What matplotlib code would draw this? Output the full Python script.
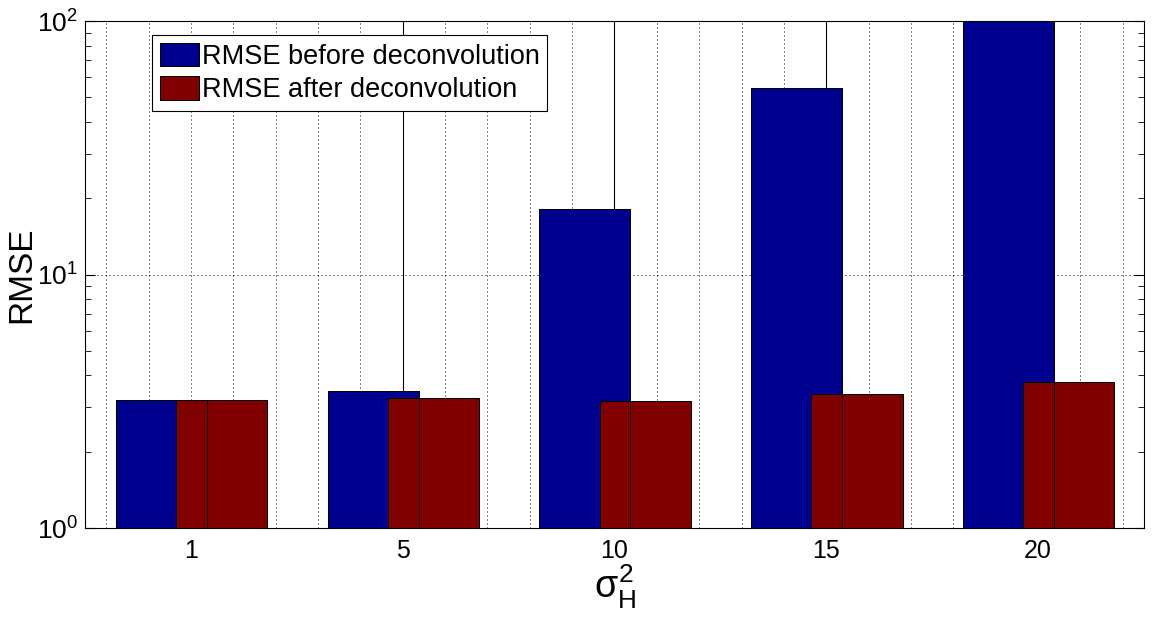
import numpy as np
import matplotlib.pyplot as plt
from matplotlib.ticker import MultipleLocator, NullFormatter

plt.rcParams['font.family'] = ['Liberation Sans', 'DejaVu Sans']
plt.rcParams['mathtext.fontset'] = 'custom'
plt.rcParams['mathtext.rm'] = 'Liberation Sans'
plt.rcParams['mathtext.it'] = 'Liberation Sans'

# data
sigma_h2 = ['1', '5', '10', '15', '20']
rmse_before = [3.19, 3.46, 18.1, 54.4, 150.0]
rmse_after = [3.19, 3.25, 3.16, 3.37, 3.76]

blue = '#00008f'
red = '#800000'
dotted = (0, (1, 3))

fig = plt.figure(figsize=(11.58, 6.22), dpi=100)
ax = fig.add_axes([0.0734, 0.1511, 0.9145, 0.8151])
ax.set_yscale('log')

pos = np.arange(1, len(sigma_h2) + 1)
width = 0.43

ax.bar(pos - 0.14, rmse_before, width, color=blue, edgecolor='black',
       linewidth=0.7, zorder=2, label='RMSE before deconvolution')
ax.bar(pos + 0.145, rmse_after, width, color=red, edgecolor='black',
       linewidth=0.7, zorder=3, label='RMSE after deconvolution')
# outline of the first series drawn over the second (as matlab does)
ax.bar(pos - 0.14, rmse_before, width, fill=False, edgecolor='black',
       linewidth=0.7, zorder=4)

ax.set_xlim(0.5, 5.5)
ax.set_ylim(1, 100)

# stem lines above the bars
ax.vlines(pos[1:], rmse_before[1:], 100, color='black', linewidth=0.8, zorder=1.5)

ax.set_xticks(pos)
ax.set_xticklabels(sigma_h2)
ax.xaxis.set_minor_locator(MultipleLocator(0.2))
ax.yaxis.set_minor_formatter(NullFormatter())

ax.set_axisbelow(True)
ax.grid(True, which='both', axis='x', linestyle=dotted, linewidth=0.72, color='black')
ax.grid(True, which='major', axis='y', linestyle=dotted, linewidth=0.72, color='black')

ax.tick_params(axis='x', which='major', direction='in', length=5, labelsize=18, pad=8)
ax.tick_params(axis='x', which='minor', length=0)
ax.tick_params(axis='y', which='both', direction='in', right=True, labelsize=19, pad=5)
ax.tick_params(axis='y', which='major', length=7)
ax.tick_params(axis='y', which='minor', length=4)
for s in ax.spines.values():
    s.set_linewidth(0.8)

ax.set_xlabel(r'$\sigma_H^2$', fontsize=27, labelpad=0)
ax.set_ylabel('RMSE', fontsize=24)
ax.yaxis.set_label_coords(-0.045, 0.5)

leg = ax.legend(loc='upper left', bbox_to_anchor=(0.0633, 0.9724), borderaxespad=0,
                fancybox=False, edgecolor='black', framealpha=1, fontsize=19.5,
                handlelength=1.45, handleheight=0.95, handletextpad=0.1,
                borderpad=0.28, labelspacing=0.25)
leg.get_frame().set_linewidth(0.8)
leg.set_zorder(10)

fig.savefig('out.png', dpi=100)
